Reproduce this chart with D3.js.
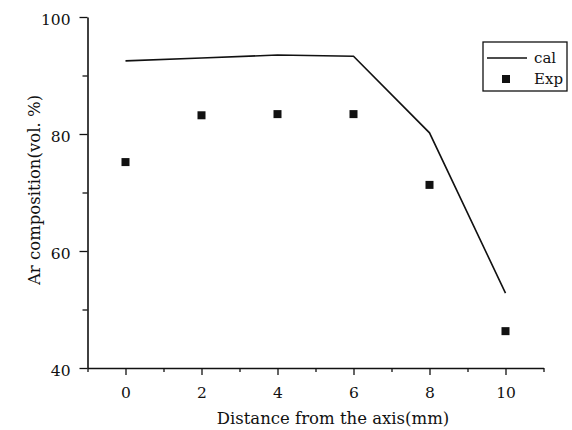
<!DOCTYPE html>
<html><head><meta charset="utf-8">
<script src="https://cdn.jsdelivr.net/npm/d3@7"></script>
<style>body{margin:0;background:#fff}svg{display:block}text{font-family:"DejaVu Serif",serif;fill:#111}</style>
</head><body>
<script>
const calX = [0, 2, 4, 6, 8, 10];
const calY = [92.5, 93.0, 93.5, 93.3, 80.2, 52.8];
const expX = [0, 2, 4, 6, 8, 10];
const expY = [75.2, 83.2, 83.4, 83.4, 71.3, 46.3];
const xTicks = [0, 2, 4, 6, 8, 10];
const yTicks = [40, 60, 80, 100];
const seriesNames = ["cal", "Exp"];

const W = 572, H = 430;
const svg = d3.select("body").append("svg").attr("width", W).attr("height", H);
const x = d3.scaleLinear().domain([-1, 11]).range([87.5, 543.5]);
const y = d3.scaleLinear().domain([40, 100]).range([368, 17]);

// axes
const xAxis = svg.append("g").attr("transform", `translate(0,${y(40)})`);
xAxis.call(d3.axisBottom(x).tickValues(xTicks).tickSize(7).tickPadding(12).tickSizeOuter(0));
xAxis.append("g").call(d3.axisBottom(x).tickValues([-1,1,3,5,7,9,11]).tickSize(4).tickFormat("").tickSizeOuter(0)).select(".domain").remove();
const yAxis = svg.append("g").attr("transform", `translate(${x(-1)},0)`);
yAxis.call(d3.axisLeft(y).tickValues(yTicks).tickSize(8).tickPadding(9).tickSizeOuter(0));
yAxis.append("g").call(d3.axisLeft(y).tickValues([50,70,90]).tickSize(5).tickFormat("").tickSizeOuter(0)).select(".domain").remove();
svg.selectAll(".domain").attr("stroke", "#111").attr("stroke-width", 1.6);
svg.selectAll(".tick line").attr("stroke", "#111").attr("stroke-width", 1.3);
svg.selectAll(".tick text").style("font-family", '"DejaVu Serif",serif').style("font-size", "15.5px").attr("fill", "#111");
yAxis.selectAll(".tick text").attr("dy", "0.5em");

// axis labels
svg.append("text").attr("x", 333).attr("y", 424).attr("text-anchor", "middle")
  .style("font-size", "16.5px").text("Distance from the axis(mm)");
svg.append("text").attr("transform", "translate(40,190) rotate(-90)").attr("text-anchor", "middle")
  .style("font-size", "16.5px").text("Ar composition(vol. %)");

// cal line
const line = d3.line().x((d, i) => x(calX[i])).y(d => y(d));
svg.append("path").datum(calY).attr("d", line).attr("fill", "none").attr("stroke", "#111").attr("stroke-width", 1.6);

// exp points
const s = 8;
svg.selectAll("rect.pt").data(expY).enter().append("rect").attr("class", "pt")
  .attr("x", (d, i) => x(expX[i]) - s / 2).attr("y", d => y(d) - s / 2)
  .attr("width", s).attr("height", s).attr("fill", "#111");

// legend
const lg = svg.append("g");
lg.append("rect").attr("x", 483).attr("y", 42).attr("width", 84).attr("height", 49)
  .attr("fill", "#fff").attr("stroke", "#111").attr("stroke-width", 1.3);
lg.append("line").attr("x1", 487).attr("x2", 527).attr("y1", 58).attr("y2", 58).attr("stroke", "#111").attr("stroke-width", 1.6);
lg.append("text").attr("x", 534).attr("y", 63).style("font-size", "15px").text(seriesNames[0]);
lg.append("rect").attr("x", 502).attr("y", 75).attr("width", s).attr("height", s).attr("fill", "#111");
lg.append("text").attr("x", 534).attr("y", 84).style("font-size", "15px").text(seriesNames[1]);
</script>
</body></html>
